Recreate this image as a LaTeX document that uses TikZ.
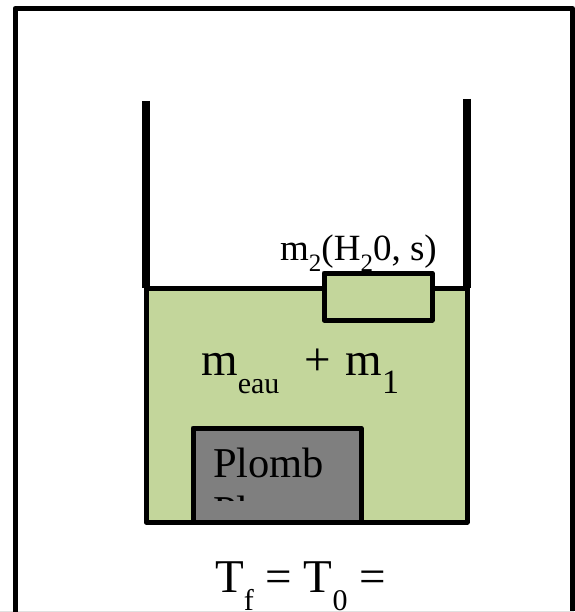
\documentclass[tikz,border=0pt]{standalone}
\usepackage{fontspec}
\setmainfont{Liberation Serif}
\definecolor{eau}{HTML}{C3D69B}
\definecolor{plomb}{HTML}{7F7F7F}
\newcommand{\bas}[3]{\raisebox{-#1pt}{\fontsize{#2}{#2}\selectfont #3}}
\tikzset{
    bloc/.style={draw, line width=5pt, line join=round},
    texte/.style={inner sep=0pt, anchor=base west, font=\fontsize{47}{47}\selectfont},
}
\begin{document}
\begin{tikzpicture}[x=1pt, y=-1pt]
    \useasboundingbox (0,0) rectangle (574,612);
    \draw[line width=1pt, black!12] (0,611.5) -- (574,611.5);
    \draw[line width=5pt, line join=round] (15,612) -- (15,8.5) -- (572.5,8.5) -- (572.5,611);

    \coordinate (A) at (146,288);
    \coordinate (B) at (467,522);
    \coordinate (C) at (146,101);
    \coordinate (D) at (467,99);

    \draw[bloc, fill=eau] (A) rectangle (B);
    \draw[line width=7.5pt] (C) -- (A);
    \draw[line width=7.5pt] (D) -- (B |- A);

    \draw[bloc, fill=eau] (324,273) rectangle (432,320);
    \draw[bloc, fill=plomb] (193,428) rectangle (361,522);

    \node[texte, font=\fontsize{37}{37}\selectfont] (glace) at (280,260) {m\bas{11}{25}{2}(H\bas{11}{25}{2}0, s)};
    \node[texte] (masses) at (201,375) {m\bas{18}{30}{eau}\hspace{25pt}+\hspace{3pt} m\bas{18}{34}{1}};
    \node[texte, font=\fontsize{42.5}{43}\selectfont] (plombA) at (213,477) {Plomb};
    \begin{scope}
        \clip (200,433) rectangle (354,500.5);
        \node[texte, font=\fontsize{42.5}{43}\selectfont] (plombB) at (213,525) {Pl};
    \end{scope}
    \node[texte] (temp) at (215,592) {T\bas{18}{30}{f} = T\bas{18}{30}{0} =};
\end{tikzpicture}
\end{document}
